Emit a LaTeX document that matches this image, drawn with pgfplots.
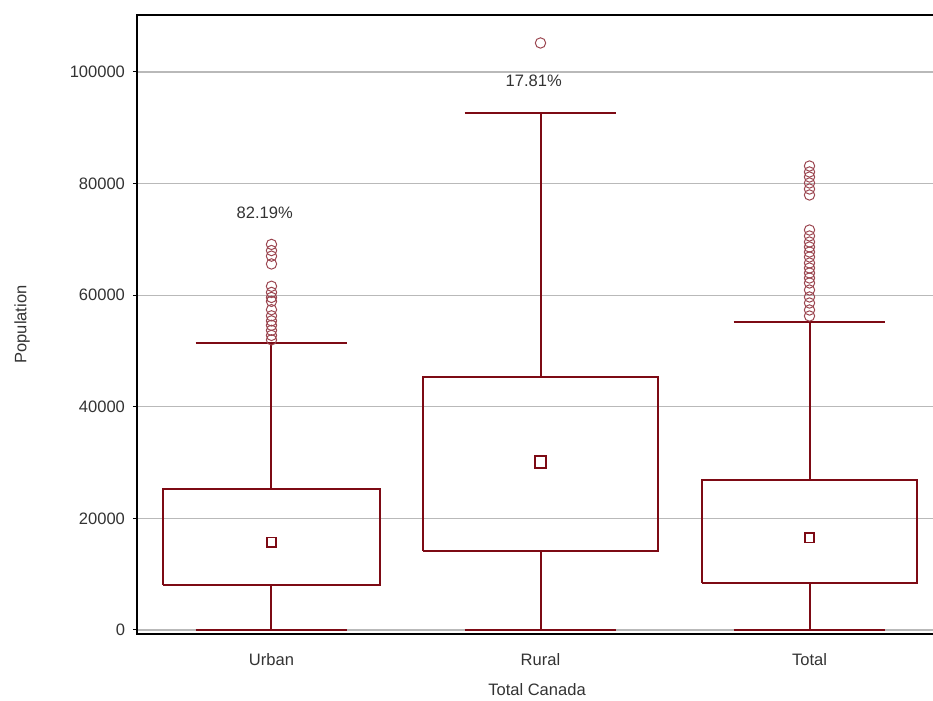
\documentclass[border=0pt]{standalone}
\usepackage{pgfplots}
\pgfplotsset{compat=1.18}
\usepackage{fontspec}
\setmainfont{Liberation Sans}
\definecolor{boxred}{RGB}{125,10,20}
\definecolor{outred}{RGB}{155,70,80}
\definecolor{gridgray}{RGB}{185,185,185}
\begin{document}
\begin{tikzpicture}
\begin{axis}[
  scale only axis,
  width=400bp, height=309.5bp,
  xmin=-0.5, xmax=2.474,
  ymin=-717, ymax=110215,
  axis line style={line width=1bp, black},
  xtick={0,1,2}, xticklabels={Urban,Rural,Total},
  xtick style={draw=none},
  ytick={0,20000,40000,60000,80000,100000},
  scaled y ticks=false,
  yticklabel style={/pgf/number format/fixed, /pgf/number format/1000 sep={}, xshift=-0.5bp},
  xticklabel style={yshift=-4bp},
  /pgf/number format/assume math mode=true,
  ytick pos=left,
  tick align=outside, major tick length=2bp,
  ytick style={line width=0.5bp, black},
  ymajorgrids, grid style={gridgray, line width=0.6bp},
  tick label style={font=\fontsize{8.3}{9}\selectfont, text=black!80},
  label style={font=\fontsize{8.3}{9}\selectfont, text=black!80},
  xlabel={Total Canada}, ylabel={Population},
  xlabel style={at={(axis description cs:0.5,0)}, anchor=center, yshift=-28bp},
  ylabel style={at={(axis description cs:0,0.5)}, anchor=center, yshift=57.5bp},
  unbounded coords=jump,
  clip=false,
]
% Urban: box, whiskers, caps
\addplot[boxred, line width=1bp] coordinates {
  (-0.405,8000) (0.405,8000) (0.405,25300) (-0.405,25300) (-0.405,8000) (0,nan)
  (0,25300) (0,51430) (0,nan) (0,0) (0,8000) (0,nan)
  (-0.2825,51430) (0.2825,51430) (0,nan) (-0.2825,0) (0.2825,0)};
% Rural
\addplot[boxred, line width=1bp] coordinates {
  (0.565,14160) (1.435,14160) (1.435,45340) (0.565,45340) (0.565,14160) (1,nan)
  (1,45340) (1,92650) (1,nan) (1,0) (1,14160) (1,nan)
  (0.7175,92650) (1.2825,92650) (1,nan) (0.7175,0) (1.2825,0)};
% Total
\addplot[boxred, line width=1bp] coordinates {
  (1.6,8420) (2.4,8420) (2.4,26880) (1.6,26880) (1.6,8420) (2,nan)
  (2,26880) (2,55200) (2,nan) (2,0) (2,8420) (2,nan)
  (1.7175,55200) (2.2825,55200) (2,nan) (1.7175,0) (2.2825,0)};
% outliers
\addplot[only marks, mark=o, mark size=2.6bp, mark options={outred, line width=0.5bp}] coordinates {
  (0,69100) (0,68000) (0,67000) (0,65600) (0,61600) (0,60500) (0,59600) (0,58900) (0,57400)
  (0,56300) (0,55400) (0,54600) (0,53700) (0,52800) (0,52000)
  (1,105200)
  (2,83150) (2,82080) (2,81180) (2,80110) (2,79030) (2,77960) (2,71680) (2,70610) (2,69530)
  (2,68640) (2,67740) (2,66850) (2,65770) (2,64870) (2,63980) (2,63080) (2,62190) (2,60930)
  (2,59680) (2,58600) (2,57350) (2,56270)};
% medians
\addplot[only marks, mark=square, mark size=2.3bp, mark options={boxred, line width=0.9bp}] coordinates {(0,15770) (2,16490)};
\addplot[only marks, mark=square, mark size=2.8bp, mark options={boxred, line width=1bp}] coordinates {(1,30100)};
\node[font=\fontsize{8.3}{9}\selectfont, text=black!80] at (axis cs:-0.025,74700) {82.19\%};
\node[font=\fontsize{8.3}{9}\selectfont, text=black!80] at (axis cs:0.975,98500) {17.81\%};
\end{axis}
\pgfresetboundingbox
\path[use as bounding box] ([xshift=-68.5bp,yshift=-33.5bp]current axis.south west) rectangle ([xshift=-2bp,yshift=7.5bp]current axis.north east);
\end{tikzpicture}
\end{document}
